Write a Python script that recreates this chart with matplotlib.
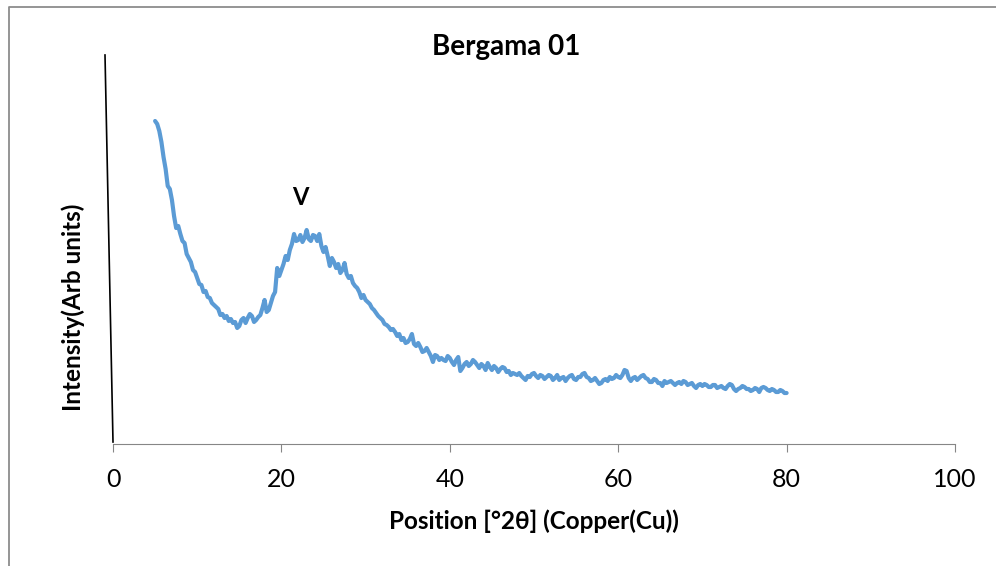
import numpy as np
import matplotlib

matplotlib.use("Agg")

import matplotlib.pyplot as plt  # noqa: E402
from matplotlib.lines import Line2D  # noqa: E402

plt.rcParams["font.family"] = ["Lato", "DejaVu Sans"]

# scan grid, degrees 2-theta (0.25 deg steps)
two_theta = np.arange(5.0, 80.001, 0.25)

# intensity (arbitrary units), one value per step; each row covers 5 degrees
intensity = [
    323, 320, 313, 302, 287, 275, 258, 255, 244, 228, 216, 218, 210, 203, 201, 190, 186, 182, 174, 172,  # 5
    166, 160, 159, 152, 153, 147, 146, 141, 139, 137, 135, 129, 130, 126, 128, 123, 125, 121, 122, 116,  # 10
    118, 124, 126, 121, 126, 130, 128, 122, 124, 127, 129, 136, 144, 132, 134, 141, 148, 152, 176, 168,  # 15
    174, 180, 188, 184, 194, 200, 210, 203, 204, 209, 202, 206, 214, 205, 203, 209, 208, 203, 210, 198,  # 20
    192, 197, 188, 178, 186, 182, 176, 180, 171, 174, 181, 170, 166, 168, 161, 158, 156, 152, 146, 149,  # 25
    144, 142, 140, 136, 134, 131, 128, 126, 124, 120, 119, 117, 114, 115, 112, 108, 110, 104, 106, 101,  # 30
    102, 105, 110, 100, 98, 101, 97, 92, 93, 96, 92, 88, 82, 89, 88, 84, 86, 84, 83, 88,                # 35
    86, 82, 79, 84, 87, 73, 76, 80, 82, 78, 80, 84, 82, 79, 76, 80, 78, 74, 81, 77,                     # 40
    74, 78, 76, 72, 75, 77, 76, 72, 73, 69, 71, 70, 69, 71, 68, 66, 64, 68, 67, 70,                     # 45
    71, 68, 66, 69, 68, 65, 67, 69, 68, 64, 66, 69, 64, 66, 67, 63, 66, 68, 69, 65,                     # 50
    64, 67, 67, 70, 71, 67, 66, 63, 64, 66, 63, 60, 61, 64, 65, 63, 67, 65, 66, 69,                     # 55
    67, 66, 69, 74, 73, 66, 63, 66, 67, 64, 66, 68, 69, 66, 65, 62, 62, 65, 64, 61,                     # 60
    61, 58, 63, 61, 62, 63, 61, 59, 61, 62, 60, 63, 62, 59, 60, 61, 58, 56, 59, 60,                     # 65
    58, 60, 59, 57, 57, 59, 59, 56, 57, 58, 56, 55, 58, 60, 59, 55, 53, 55, 56, 58,                     # 70
    57, 55, 55, 53, 54, 56, 55, 52, 56, 57, 56, 54, 53, 55, 54, 52, 52, 54, 53, 51,                     # 75
    51,                                                                                                 # 80
]

x_ticks = [0, 20, 40, 60, 80, 100]
peak_label = "V"
peak_pos = (22.3, 247)

W, H = 996, 566
fig = plt.figure(figsize=(W / 100, H / 100), dpi=100)
ax = fig.add_axes([113 / W, 1 - 444 / H, (955 - 113) / W, (444 - 55) / H])

ax.plot(two_theta, intensity, color="#5B9BD5", linewidth=3.0,
        solid_joinstyle="round", solid_capstyle="round")
ax.text(*peak_pos, peak_label, ha="center", va="center", fontsize=17, fontweight="bold")

ax.set_xlim(0, 100)
ax.set_ylim(0, 389)
ax.set_xticks(x_ticks)
ax.set_yticks([])
for side in ("top", "right", "left"):
    ax.spines[side].set_visible(False)
ax.spines["bottom"].set_color("#868686")
ax.tick_params(axis="x", direction="out", length=6, color="#868686", labelsize=18, pad=11)

# titles sit where the original chart put them (not centred on the axes)
fig.text(506 / W, 1 - 47 / H, "Bergama 01", ha="center", va="center", fontsize=20, fontweight="bold")
fig.text(534 / W, 1 - 521 / H, "Position [°2θ] (Copper(Cu))", ha="center", va="center",
         fontsize=17.5, fontweight="bold")
fig.text(73 / W, 1 - 307 / H, "Intensity(Arb units)", ha="center", va="center", rotation=90,
         fontsize=17.5, fontweight="bold")

# the hand-drawn, slightly slanted y axis
fig.add_artist(Line2D([105 / W, 113 / W], [1 - 55 / H, 1 - 442 / H], color="black", linewidth=1.2))

# chart-area border (left and top edges visible)
fig.add_artist(Line2D([8.5 / W, 8.5 / W, 1], [0, 1 - 6.5 / H, 1 - 6.5 / H], color="#8c8c8c", linewidth=1.3))

fig.savefig("out.png", dpi=100)
